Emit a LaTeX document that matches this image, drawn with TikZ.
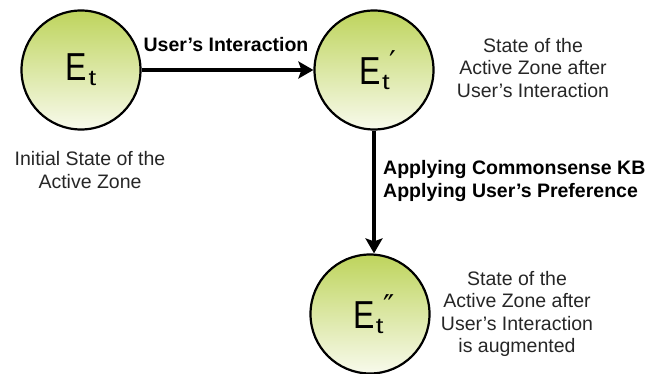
\documentclass[tikz,border=0pt]{standalone}
\usepackage{fontspec}
\setmainfont{Liberation Sans}
\newfontfamily\markfont{DejaVu Sans}
\usetikzlibrary{arrows.meta}

\definecolor{stateTop}{RGB}{190,212,92}
\definecolor{stateMid}{RGB}{214,229,150}
\definecolor{stateBot}{RGB}{248,250,236}

% state symbol: narrow E with subscript t, followed by an optional raised mark
\newcommand\stateE[1]{%
  \scalebox{0.82}[1]{\fontsize{39}{39}\selectfont E}%
  \hspace{1.5pt}\raisebox{-5pt}{\scalebox{1.25}[1]{\fontsize{22}{22}\selectfont t}}%
  \raisebox{12pt}{\markfont\fontsize{30}{30}\selectfont #1}}

\tikzset{
  statecircle/.style={circle, draw=black, line width=2.2pt, minimum size=119pt,
    inner sep=0pt, top color=stateTop, middle color=stateMid, bottom color=stateBot},
  caption/.style={align=center, font=\fontsize{19.5}{22.5}\selectfont, text=black!85},
  boldcaption/.style={align=left, font=\bfseries\fontsize{19.5}{23}\selectfont},
  flow/.style={line width=4pt, -{Stealth[length=15pt, width=17pt, inset=3pt]}}
}

\begin{document}
\begin{tikzpicture}[x=1pt, y=-1pt]
  \useasboundingbox (0,0) rectangle (652,374);

  % the three states
  \node[statecircle] (s0) at (81,70) {\stateE{}};
  \node[statecircle] (s1) at (374,70) {\hspace{8pt}\stateE{′}};
  \node[statecircle] (s2) at (370,314) {\hspace{8pt}\stateE{″}};

  % transitions
  \draw[flow] (s0) -- (s1);
  \draw[flow] (s1) -- (s1 |- s2.north);

  % transition labels
  \node[boldcaption, anchor=center] (lab01) at (226,45) {User’s Interaction};
  \node[boldcaption, anchor=west, inner sep=0pt] (lab12) at (383,181)
    {Applying Commonsense KB\\Applying User’s Preference};

  % state descriptions
  \node[caption] (d0) at (90,170) {Initial State of the\\Active Zone};
  \node[caption] (d1) at (533,68) {State of the\\Active Zone after\\User’s Interaction};
  \node[caption] (d2) at (517,314) {State of the\\Active Zone after\\User’s Interaction\\is augmented};
\end{tikzpicture}
\end{document}
